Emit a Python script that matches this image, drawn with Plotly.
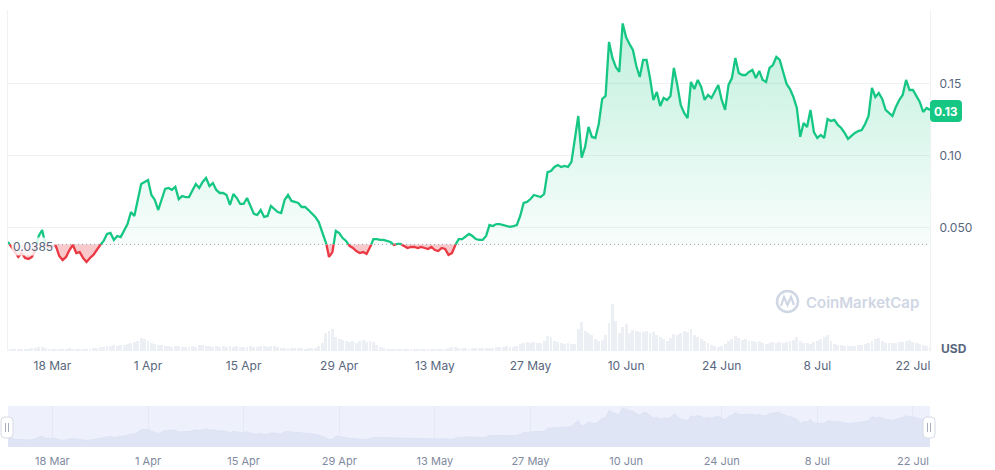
import plotly.graph_objects as go
import pandas as pd

# ---------------- data ----------------
START = "2024-03-11 12:00"
STEP = "12h"
BASELINE = 0.0385

price = [
    0.0402, 0.0367, 0.0332, 0.0298, 0.0325, 0.0291, 0.0284, 0.0298, 0.0346, 0.0443,
    0.0485, 0.0381, 0.0367, 0.0374, 0.0374, 0.0305, 0.0277, 0.0298, 0.0346, 0.0381,
    0.0325, 0.0332, 0.0291, 0.0263, 0.0291, 0.0312, 0.0346, 0.0381, 0.0409, 0.0457,
    0.0464, 0.0416, 0.0443, 0.0436, 0.0485, 0.0526, 0.0609, 0.0582, 0.0693, 0.0803,
    0.0817, 0.0831, 0.0727, 0.0693, 0.0623, 0.0693, 0.0769, 0.0776, 0.0762, 0.0783,
    0.0699, 0.0720, 0.0713, 0.0713, 0.0755, 0.0803, 0.0776, 0.0817, 0.0845, 0.0789,
    0.0810, 0.0762, 0.0741, 0.0741, 0.0727, 0.0658, 0.0734, 0.0706, 0.0665, 0.0665,
    0.0706, 0.0644, 0.0596, 0.0589, 0.0623, 0.0575, 0.0582, 0.0651, 0.0630, 0.0609,
    0.0602, 0.0693, 0.0727, 0.0686, 0.0679, 0.0672, 0.0644, 0.0644, 0.0623, 0.0602,
    0.0575, 0.0540, 0.0471, 0.0416, 0.0298, 0.0332, 0.0478, 0.0464, 0.0429, 0.0409,
    0.0374, 0.0360, 0.0339, 0.0325, 0.0332, 0.0319, 0.0360, 0.0422, 0.0422, 0.0416,
    0.0416, 0.0409, 0.0402, 0.0381, 0.0388, 0.0388, 0.0374, 0.0360, 0.0367, 0.0367,
    0.0360, 0.0367, 0.0360, 0.0353, 0.0367, 0.0346, 0.0339, 0.0360, 0.0353, 0.0312,
    0.0325, 0.0381, 0.0422, 0.0422, 0.0443, 0.0457, 0.0443, 0.0422, 0.0416, 0.0416,
    0.0443, 0.0519, 0.0512, 0.0526, 0.0526, 0.0519, 0.0512, 0.0506, 0.0512, 0.0519,
    0.0582, 0.0672, 0.0679, 0.0699, 0.0727, 0.0720, 0.0713, 0.0734, 0.0886, 0.0893,
    0.0921, 0.0935, 0.0921, 0.0928, 0.0921, 0.0956, 0.1129, 0.1274, 0.0985, 0.1060,
    0.1198, 0.1129, 0.1122, 0.1219, 0.1392, 0.1413, 0.1787, 0.1676, 0.1613, 0.1579,
    0.1915, 0.1820, 0.1773, 0.1731, 0.1620, 0.1544, 0.1662, 0.1662, 0.1537, 0.1385,
    0.1440, 0.1343, 0.1399, 0.1385, 0.1413, 0.1607, 0.1489, 0.1350, 0.1295, 0.1260,
    0.1510, 0.1461, 0.1524, 0.1475, 0.1385, 0.1420, 0.1399, 0.1440, 0.1489, 0.1385,
    0.1316, 0.1489, 0.1537, 0.1676, 0.1572, 0.1558, 0.1558, 0.1579, 0.1593, 0.1537,
    0.1586, 0.1524, 0.1510, 0.1607, 0.1627, 0.1683, 0.1662, 0.1579, 0.1496, 0.1461,
    0.1406, 0.1330, 0.1130, 0.1226, 0.1198, 0.1316, 0.1163, 0.1122, 0.1143, 0.1122,
    0.1253, 0.1240, 0.1247, 0.1212, 0.1191, 0.1157, 0.1115, 0.1136, 0.1157, 0.1170,
    0.1177, 0.1219, 0.1274, 0.1468, 0.1406, 0.1434, 0.1392, 0.1316, 0.1295, 0.1274,
    0.1337, 0.1385, 0.1420, 0.1524, 0.1454, 0.1454, 0.1413, 0.1371, 0.1302, 0.1330,
    0.1316,
]

volume_musd = [
    4, 4, 4, 4, 4, 4, 4, 6, 6, 8,
    8, 6, 4, 4, 4, 4, 4, 4, 6, 4,
    4, 4, 4, 4, 4, 6, 6, 8, 8, 10,
    10, 12, 10, 12, 12, 14, 16, 18, 20, 26,
    24, 20, 16, 14, 12, 12, 10, 10, 8, 10,
    10, 8, 8, 8, 10, 8, 12, 12, 10, 10,
    8, 10, 8, 10, 8, 10, 8, 10, 8, 8,
    8, 10, 8, 8, 10, 10, 8, 10, 10, 8,
    6, 6, 6, 6, 6, 6, 6, 4, 6, 6,
    6, 10, 16, 36, 40, 44, 28, 24, 22, 20,
    18, 20, 16, 20, 22, 18, 20, 18, 12, 8,
    6, 4, 4, 4, 4, 4, 4, 4, 4, 4,
    4, 4, 4, 4, 4, 4, 4, 4, 4, 6,
    8, 8, 6, 6, 6, 4, 6, 6, 6, 6,
    6, 6, 6, 8, 8, 8, 10, 8, 8, 10,
    14, 16, 18, 16, 18, 16, 16, 20, 30, 28,
    20, 18, 16, 14, 16, 14, 14, 44, 58, 40,
    36, 32, 24, 20, 22, 32, 56, 94, 60, 36,
    48, 54, 36, 42, 40, 38, 38, 40, 36, 38,
    32, 28, 24, 20, 26, 34, 32, 36, 40, 38,
    44, 32, 28, 24, 20, 16, 12, 10, 8, 10,
    14, 20, 24, 30, 26, 22, 24, 20, 20, 18,
    20, 16, 14, 16, 18, 16, 18, 16, 18, 20,
    22, 28, 20, 16, 16, 14, 18, 20, 24, 28,
    32, 20, 14, 12, 12, 10, 10, 10, 10, 12,
    12, 14, 16, 20, 24, 26, 20, 16, 16, 16,
    16, 18, 18, 20, 22, 18, 16, 14, 12, 10,
    8,
]

tick_dates = ["2024-03-18", "2024-04-01", "2024-04-15", "2024-04-29", "2024-05-13",
              "2024-05-27", "2024-06-10", "2024-06-24", "2024-07-08", "2024-07-22"]
tick_labels = ["18 Mar", "1 Apr", "15 Apr", "29 Apr", "13 May",
               "27 May", "10 Jun", "24 Jun", "8 Jul", "22 Jul"]
price_ticks = [0.0, 0.05, 0.10, 0.15]
price_tick_labels = ["", "0.050", "0.10", "0.15"]

# ---------------- styling ----------------
W, H = 995, 470
GREEN = "#16c784"
RED = "#ea3943"
GRID = "#eff2f5"
TXT = "#58667e"
FONT = "Inter, Roboto, sans-serif"


def px(x):
    return x / W


def py(y):
    return 1 - y / H


times = pd.date_range(START, periods=len(price), freq=STEP)

# insert baseline crossings so the colour switch happens exactly on the baseline
tn = times.astype("int64")
xs, ys = [], []
for i in range(len(price)):
    if i > 0:
        a = price[i - 1] - BASELINE
        b = price[i] - BASELINE
        if a * b < 0:
            f = a / (a - b)
            tc = tn[i - 1] + f * (tn[i] - tn[i - 1])
            xs.append(pd.Timestamp(int(tc)))
            ys.append(BASELINE)
    xs.append(times[i])
    ys.append(price[i])

upper = [max(v, BASELINE) for v in ys]
lower = [min(v, BASELINE) for v in ys]
green_line = [v if v >= BASELINE else None for v in ys]
red_line = [v if v <= BASELINE else None for v in ys]
base = [BASELINE] * len(xs)

x_dom = [px(8), px(930)]
y_price_dom = [py(300), py(10)]
y_vol_dom = [py(351), py(300)]
y_nav_dom = [py(447), py(406)]
price_top = 0.2008
nav_range = [-0.006, 0.2]

fig = go.Figure()

# volume
fig.add_trace(go.Bar(x=times, y=volume_musd, xaxis="x", yaxis="y2",
                     marker=dict(color="#eceff3", line=dict(width=0)),
                     width=12 * 3600 * 1000 * 0.85, hoverinfo="skip", showlegend=False))

# green fill (above baseline)
fig.add_trace(go.Scatter(x=xs, y=base, mode="lines", line=dict(width=0),
                         hoverinfo="skip", showlegend=False))
fig.add_trace(go.Scatter(x=xs, y=upper, mode="lines", line=dict(width=0),
                         fill="tonexty",
                         fillgradient=dict(type="vertical", start=BASELINE, stop=price_top,
                                           colorscale=[[0, "rgba(22,199,132,0.03)"],
                                                       [1, "rgba(22,199,132,0.28)"]]),
                         hoverinfo="skip", showlegend=False))
# red fill (below baseline)
fig.add_trace(go.Scatter(x=xs, y=base, mode="lines", line=dict(width=0),
                         hoverinfo="skip", showlegend=False))
fig.add_trace(go.Scatter(x=xs, y=lower, mode="lines", line=dict(width=0),
                         fill="tonexty", fillcolor="rgba(234,57,67,0.28)",
                         hoverinfo="skip", showlegend=False))
# lines
fig.add_trace(go.Scatter(x=xs, y=green_line, mode="lines",
                         line=dict(color=GREEN, width=2.3), connectgaps=False,
                         hoverinfo="skip", showlegend=False))
fig.add_trace(go.Scatter(x=xs, y=red_line, mode="lines",
                         line=dict(color=RED, width=2.3), connectgaps=False,
                         hoverinfo="skip", showlegend=False))

# navigator
nav_floor = [nav_range[0]] * len(price)
fig.add_trace(go.Scatter(x=times, y=nav_floor, xaxis="x3", yaxis="y3", mode="lines",
                         line=dict(width=0), hoverinfo="skip", showlegend=False))
fig.add_trace(go.Scatter(x=times, y=price, xaxis="x3", yaxis="y3", mode="lines",
                         line=dict(width=0.8, color="#dbe1f3"), fill="tonexty",
                         fillcolor="#e0e5f6", hoverinfo="skip", showlegend=False))

xr = [times[0], times[-1]]

shapes = []
# navigator band
shapes.append(dict(type="rect", xref="x3 domain", yref="y3 domain", x0=0, x1=1, y0=0, y1=1,
                   fillcolor="#eef1fc", line=dict(width=0), layer="below"))
# baseline dotted line
shapes.append(dict(type="line", xref="x domain", yref="y", x0=0.05, x1=1,
                   y0=BASELINE, y1=BASELINE,
                   line=dict(color="#8f97a8", width=1, dash="1px,3px")))


def rrect(x0, y0, x1, y1, r):
    X = lambda v: px(v)
    Y = lambda v: py(v)
    return (f"M {X(x0 + r)} {Y(y0)} L {X(x1 - r)} {Y(y0)} Q {X(x1)} {Y(y0)} {X(x1)} {Y(y0 + r)} "
            f"L {X(x1)} {Y(y1 - r)} Q {X(x1)} {Y(y1)} {X(x1 - r)} {Y(y1)} "
            f"L {X(x0 + r)} {Y(y1)} Q {X(x0)} {Y(y1)} {X(x0)} {Y(y1 - r)} "
            f"L {X(x0)} {Y(y0 + r)} Q {X(x0)} {Y(y0)} {X(x0 + r)} {Y(y0)} Z")


# navigator handles
for cx in (7, 929):
    shapes.append(dict(type="path", xref="paper", yref="paper",
                       path=rrect(cx - 6, 417, cx + 6, 438, 4),
                       fillcolor="white", line=dict(color="#d5dae5", width=1)))
    for dx in (-1.5, 1.5):
        shapes.append(dict(type="line", xref="paper", yref="paper",
                           x0=px(cx + dx), x1=px(cx + dx), y0=py(423), y1=py(432),
                           line=dict(color="#a6adbd", width=1)))

# last price tag
shapes.append(dict(type="path", xref="paper", yref="paper",
                   path=rrect(930, 100, 962, 122, 4),
                   fillcolor=GREEN, line=dict(width=0)))

# watermark logo
WM = "#cfd6e4"
shapes.append(dict(type="circle", xref="paper", yref="paper",
                   x0=px(777), x1=px(798), y0=py(312), y1=py(291),
                   line=dict(color=WM, width=2.5)))
shapes.append(dict(type="path", xref="paper", yref="paper",
                   path=f"M {px(781)} {py(306)} L {px(784)} {py(297)} L {px(787.5)} {py(305)} "
                        f"L {px(791)} {py(297)} L {px(794)} {py(305)}",
                   line=dict(color=WM, width=2.2)))

annotations = [
    dict(text="0.0385", xref="x domain", x=0, xanchor="left", xshift=3,
         yref="y", y=BASELINE, yanchor="middle", yshift=-2, showarrow=False,
         font=dict(color=TXT, size=12, family=FONT),
         bgcolor="rgba(255,255,255,0.8)", borderpad=1),
    dict(text=f"<b>{price[-1]:.2f}</b>", xref="paper", x=px(946), xanchor="center",
         yref="paper", y=py(111), yanchor="middle", showarrow=False,
         font=dict(color="white", size=12, family=FONT)),
    dict(text="<b>USD</b>", xref="paper", x=px(954), xanchor="center",
         yref="paper", y=py(348), yanchor="middle", showarrow=False,
         font=dict(color=TXT, size=12, family=FONT)),
    dict(text="CoinMarketCap", xref="paper", x=px(804), xanchor="left",
         yref="paper", y=py(302), yanchor="middle", showarrow=False,
         font=dict(color=WM, size=15, family=FONT, weight=600)),
]

fig.update_layout(
    width=W, height=H, autosize=False,
    margin=dict(l=0, r=0, t=0, b=0),
    paper_bgcolor="white", plot_bgcolor="white",
    hovermode=False, showlegend=False, bargap=0,
    font=dict(family=FONT, color=TXT),
    xaxis=dict(domain=x_dom, anchor="y2", range=xr, tickvals=tick_dates, ticktext=tick_labels,
               showgrid=False, zeroline=False, showline=False, ticks="",
               tickfont=dict(size=12, color=TXT), ticklabelstandoff=6),
    yaxis=dict(domain=y_price_dom, anchor="x", side="right", range=[0, price_top],
               tickvals=price_ticks, ticktext=price_tick_labels,
               showgrid=True, gridcolor=GRID, gridwidth=1, zeroline=False,
               showline=True, mirror=True, linecolor=GRID, ticks="",
               tickfont=dict(size=12, color=TXT), ticklabelstandoff=6),
    yaxis2=dict(domain=y_vol_dom, anchor="x", side="right", range=[0, 102],
                showgrid=False, zeroline=False, showticklabels=False,
                showline=True, mirror=True, linecolor=GRID, ticks=""),
    xaxis3=dict(domain=x_dom, anchor="y3", range=xr, tickvals=tick_dates, ticktext=tick_labels,
                showgrid=True, gridcolor="#e5e9f5", zeroline=False, showline=False, ticks="",
                tickfont=dict(size=11, color="#7f8a9f"), ticklabelstandoff=6),
    yaxis3=dict(domain=y_nav_dom, anchor="x3", range=nav_range, visible=False),
    shapes=shapes,
    annotations=annotations,
)

fig.write_html("out.html")
